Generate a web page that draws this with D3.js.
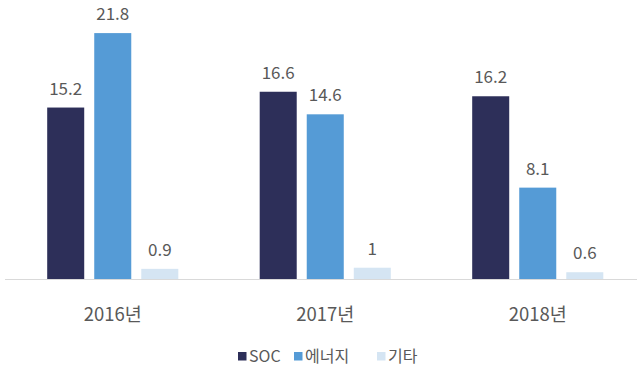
<!DOCTYPE html>
<html>
<head>
<meta charset="utf-8">
<script src="https://cdn.jsdelivr.net/npm/d3@7"></script>
<style>
  html, body { margin: 0; padding: 0; background: #fff; }
  svg { display: block; font-family: "Noto Sans CJK KR", "Noto Sans", sans-serif; }
</style>
</head>
<body>
<svg id="chart" width="637" height="369"></svg>
<script>
const categories = ["2016년", "2017년", "2018년"];
const seriesNames = ["SOC", "에너지", "기타"];
const socValues = [15.2, 16.6, 16.2];
const energyValues = [21.8, 14.6, 8.1];
const otherValues = [0.9, 1, 0.6];
const colors = ["#2d2f59", "#559bd6", "#d5e5f3"];

const seriesValues = [socValues, energyValues, otherValues];
const data = categories.map((c, i) => ({
  category: c,
  values: seriesNames.map((s, j) => ({ series: s, value: seriesValues[j][i], idx: j }))
}));

const svg = d3.select("#chart");
const baseline = 279;

const x0 = d3.scaleBand().domain(categories).range([6.5, 644]).paddingInner(0).paddingOuter(0);
const x1 = d3.scaleBand().domain(seriesNames).range([0, x0.bandwidth()]).paddingInner(0.213).paddingOuter(0.865);
const y = d3.scaleLinear().domain([0, 25]).range([baseline, baseline - 282]);

const groups = svg.selectAll("g.group").data(data).join("g")
  .attr("class", "group")
  .attr("transform", d => `translate(${x0(d.category)},0)`);

groups.selectAll("rect").data(d => d.values).join("rect")
  .attr("x", d => x1(d.series))
  .attr("y", d => y(d.value))
  .attr("width", x1.bandwidth())
  .attr("height", d => baseline - y(d.value))
  .attr("fill", d => colors[d.idx]);

groups.selectAll("text.val").data(d => d.values).join("text")
  .attr("class", "val")
  .attr("x", d => x1(d.series) + x1.bandwidth() / 2)
  .attr("y", d => y(d.value) - 13)
  .attr("text-anchor", "middle")
  .attr("font-size", 17)
  .attr("fill", "#595959")
  .text(d => d.value);

// category axis line
svg.append("line")
  .attr("x1", 5).attr("x2", 637)
  .attr("y1", baseline + 0.5).attr("y2", baseline + 0.5)
  .attr("stroke", "#d9d9d9").attr("stroke-width", 1);

const xAxis = d3.axisBottom(x0).tickSize(0).tickPadding(0);
const axisG = svg.append("g").attr("transform", `translate(0,${baseline})`).call(xAxis);
axisG.select(".domain").remove();
axisG.selectAll("text")
  .attr("y", 42)
  .attr("dy", 0)
  .attr("font-size", 18.5)
  .attr("fill", "#595959")
  .attr("font-family", "Noto Sans CJK KR, sans-serif");

// legend
const legendItems = [
  { name: seriesNames[0], x: 238 },
  { name: seriesNames[1], x: 294 },
  { name: seriesNames[2], x: 377 }
];
const legend = svg.append("g");
legendItems.forEach((it, i) => {
  legend.append("rect")
    .attr("x", it.x).attr("y", 352)
    .attr("width", 8.5).attr("height", 8.5)
    .attr("fill", colors[i]);
  legend.append("text")
    .attr("x", it.x + 11).attr("y", 362)
    .attr("font-size", 16)
    .attr("fill", "#595959")
    .text(it.name);
});
</script>
</body>
</html>
